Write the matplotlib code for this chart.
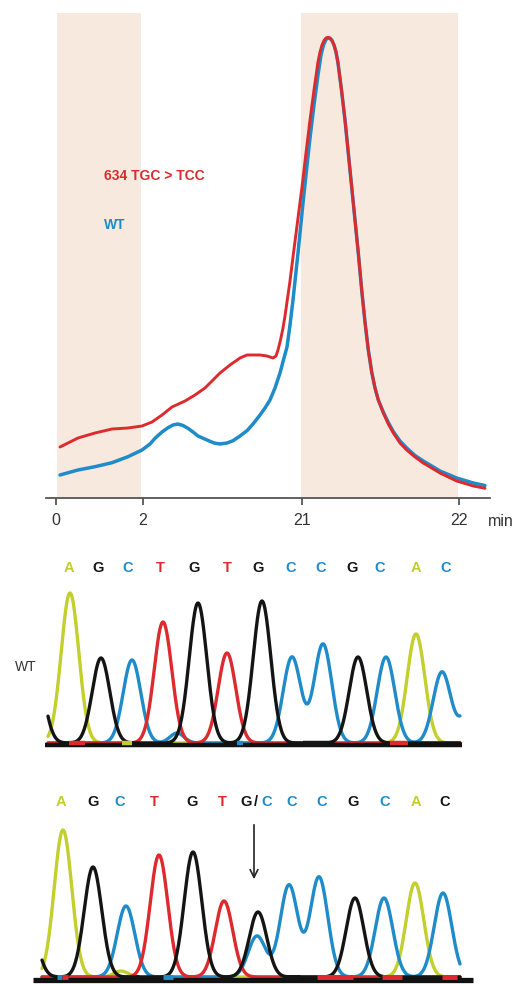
import numpy as np
import matplotlib
matplotlib.use("Agg")
import matplotlib.pyplot as plt

plt.rcParams['font.family'] = ['Liberation Sans', 'DejaVu Sans']

# ---------------- data: HPLC trace (top) ----------------
tick_pos = [0, 87, 246, 403]
tick_labels = ['0', '2', '21', '22']
shade_spans = [(0.7, 84.7), (245, 402)]

red_x = [4, 22, 39, 56, 72, 86, 96, 106, 116, 129, 139, 149, 164, 174, 184, 191, 197, 204, 211, 217,
         220, 222, 224.5, 227, 229, 231, 234, 237, 241.5, 246, 250, 254, 258, 262, 264, 266, 268, 270,
         272, 274, 276, 278, 280, 282, 285.5, 289, 295.7, 302.3, 305.7, 309, 312.3, 315.7, 319, 322.3,
         327.3, 332.3, 337.3, 344, 350.7, 359, 367.3, 375.7, 384, 400.7, 417.3, 429]
red_y = [51, 60, 65, 69, 70, 72, 76, 83, 91, 97, 103, 110, 125, 133, 140, 143, 143, 143, 142, 140,
         142, 148, 158, 170, 182, 196, 217, 241, 276, 311, 345, 378, 408, 436, 446, 453, 457.5, 460,
         460.7, 460, 457.5, 453, 446, 435, 408, 378, 311, 245, 208, 176, 148, 126, 110, 98,
         85, 74, 65, 55, 48, 41, 35, 30, 25, 17, 12, 9.7]

blue_x = [4, 22, 39, 56, 72, 86, 94, 99, 106, 112, 117, 122, 127, 132, 137, 142, 151, 158, 164, 171,
          177, 184, 191, 197, 204, 209, 214, 219, 224, 228, 231, 234, 237, 242, 247, 250.5, 254, 258,
          262, 265, 267.5, 270, 272, 274, 276, 278, 280, 282, 285.5, 289, 295.7, 302.3, 305.7, 309,
          312.3, 315.7, 319, 322.3, 327.3, 332.3, 337.3, 344, 350.7, 359, 367.3, 375.7, 384, 400.7,
          417.3, 429]
blue_y = [23, 28, 31.3, 35.3, 41.3, 48, 54, 59.7, 66, 70.3, 73, 74, 72.5, 69.7, 66, 62, 58, 55, 54, 55,
          57.3, 62, 67.3, 74, 83, 90, 98, 110, 125, 140, 151, 173, 198, 245, 295, 328, 360, 393,
          423, 443, 453, 458.5, 460, 459.5, 457.5, 453, 446, 435, 408, 378, 311, 245, 208, 176,
          148, 126, 110, 98, 86, 75.5, 66.5, 57, 50, 42.5, 37, 32, 27, 20,
          15, 12.5]

# ---------------- data: sequencing chromatograms ----------------
# WT panel
wt_letters = ['A', 'G', 'C', 'T', 'G', 'T', 'G', 'C', 'C', 'G', 'C', 'A', 'C']
wt_letter_x = [69, 98, 128, 160, 194, 227, 258, 291, 321, 352, 380, 416, 446]
wt_peak_base = ['G', 'A', 'G', 'C', 'T', 'G', 'T', 'G', 'C', 'C', 'G', 'C', 'A', 'C', 'C', 'C']
wt_peak_x = [35, 70, 101, 132, 163, 198, 227, 262, 292, 323, 358, 386, 416, 442, 470, 177]
wt_peak_h = [80, 150, 85, 83, 121, 140, 90, 142, 86, 99, 86, 86, 109, 71, 35, 10]
wt_bar_marks = [(69, 85, 'T'), (390, 408, 'T'), (122, 132, 'A'), (303, 333, 'G'), (237, 243, 'C')]

# Mutant panel
mut_letters = ['A', 'G', 'C', 'T', 'G', 'T', 'G', '/', 'C', 'C', 'C', 'G', 'C', 'A', 'C']
mut_letter_x = [61, 93, 120, 154, 192, 222, 246, 256, 267, 292, 322, 353, 385, 416, 445]
mut_letter_col = ['A', 'G', 'C', 'T', 'G', 'T', 'G', 'G', 'C', 'C', 'C', 'G', 'C', 'A', 'G']
mut_peak_base = ['G', 'A', 'G', 'C', 'T', 'G', 'T', 'G', 'C', 'C', 'C', 'G', 'C', 'A', 'C', 'A']
mut_peak_x = [28, 63, 93, 126, 159, 193, 224, 258, 257, 289, 319, 355, 384, 415, 443, 121]
mut_peak_h = [60, 147, 110, 71, 122, 125, 76, 65, 41, 92, 100, 79, 79, 94, 84, 6]
mut_bar_marks = [(57, 62, 'C'), (62, 68, 'T'), (135, 139, 'G'), (163, 173, 'C'), (283, 300, 'G'),
                 (317, 353, 'T'), (382, 402, 'T'), (442, 457, 'T')]
arrow_x = 254

# ---------------- styles ----------------
RED = '#dc2a2e'
BLUE = '#1f8bc9'
base_col = {'A': '#c2cf2c', 'G': '#141414', 'C': '#1f8bc9', 'T': '#dc2a2e'}
SHADE = '#f7e9de'

W, H = 513, 984
fig = plt.figure(figsize=(W / 100, H / 100), dpi=100)


def rect(x0, x1, y0, y1):
    return [x0 / W, 1 - y1 / H, (x1 - x0) / W, (y1 - y0) / H]


# ---------------- top panel ----------------
ax = fig.add_axes(rect(46, 490, 13, 498))
ax.set_xlim(-10, 434)
ax.set_ylim(0, 485)
for a, b in shade_spans:
    ax.axvspan(a, b, color=SHADE, lw=0, zorder=0)
ax.plot(blue_x, blue_y, color=BLUE, lw=2.5, solid_capstyle='round', solid_joinstyle='round', zorder=2)
ax.plot(red_x, red_y, color=RED, lw=2.1, solid_capstyle='round', solid_joinstyle='round', zorder=3)
for s in ['top', 'right', 'left']:
    ax.spines[s].set_visible(False)
ax.spines['bottom'].set_color('#555555')
ax.spines['bottom'].set_linewidth(1.3)
ax.set_yticks([])
ax.set_xticks(tick_pos)
ax.set_xticklabels(tick_labels, fontsize=11.5, color='#333333')
ax.tick_params(axis='x', length=5, width=1.3, color='#555555', pad=5.5)
ax.text(48, 322, '634 TGC > TCC', color=RED, fontweight='bold', fontsize=10, va='center', ha='left')
ax.text(48, 273, 'WT', color=BLUE, fontweight='bold', fontsize=10, va='center', ha='left')
fig.text(488 / W, 1 - 521 / H, 'min', fontsize=11.5, color='#333333', va='center', ha='left')

SIG = 8.8


def chromatogram(axc, bases, xs, hs, x0, x1):
    xx = np.linspace(x0, x1, 900)
    for b in ['A', 'C', 'T', 'G']:
        yy = np.zeros_like(xx)
        for bb, px, ph in zip(bases, xs, hs):
            if bb == b:
                sig = SIG if ph > 15 else 7
                yy += ph * np.exp(-(xx - px) ** 2 / (2 * sig ** 2))
        axc.plot(xx, yy, color=base_col[b], lw=2.4, solid_capstyle='round', zorder=2)


# ---------------- WT chromatogram ----------------
ax2 = fig.add_axes(rect(30, 480, 550, 760))
ax2.set_xlim(30, 480)
ax2.set_ylim(-17, 193)
ax2.axis('off')
chromatogram(ax2, wt_peak_base, wt_peak_x, wt_peak_h, 48, 460)
ax2.plot([45, 462], [-2, -2], color='#111111', lw=3.2, solid_capstyle='butt', zorder=4)
for a, b, c in wt_bar_marks:
    ax2.plot([a, b], [0, 0], color=base_col[c], lw=3.2, solid_capstyle='butt', zorder=5)
for l, x in zip(wt_letters, wt_letter_x):
    ax2.text(x, 175, l, color=base_col[l], fontweight='bold', fontsize=10.5, ha='center', va='center')
fig.text(15 / W, 1 - 667 / H, 'WT', fontsize=10, color='#333333', va='center', ha='left')

# ---------------- mutant chromatogram ----------------
ax3 = fig.add_axes(rect(30, 480, 785, 990))
ax3.set_xlim(30, 480)
ax3.set_ylim(-13, 192)
ax3.axis('off')
chromatogram(ax3, mut_peak_base, mut_peak_x, mut_peak_h, 42, 460)
ax3.plot([33, 473], [-3, -3], color='#111111', lw=3.8, solid_capstyle='butt', zorder=4)
for a, b, c in mut_bar_marks:
    ax3.plot([a, b], [0, 0], color=base_col[c], lw=3.6, solid_capstyle='butt', zorder=5)
for l, x, c in zip(mut_letters, mut_letter_x, mut_letter_col):
    ax3.text(x, 175, l, color=base_col[c], fontweight='bold', fontsize=10.5, ha='center', va='center')
ax3.annotate('', xy=(arrow_x, 95), xytext=(arrow_x, 155),
             arrowprops=dict(arrowstyle='->', lw=1.2, color='#222222', mutation_scale=14))

fig.savefig('out.png', dpi=100)
